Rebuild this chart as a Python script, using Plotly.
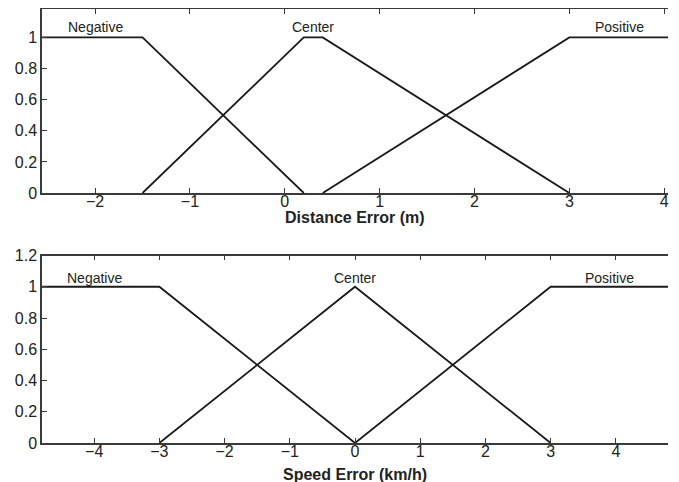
import plotly.graph_objects as go

# Distance error membership functions (top)
dist_neg_x = [-2.56, -1.5, 0.2]
dist_neg_y = [1, 1, 0]
dist_cen_x = [-1.5, 0.2, 0.4, 3.0]
dist_cen_y = [0, 1, 1, 0]
dist_pos_x = [0.4, 3.0, 4.04]
dist_pos_y = [0, 1, 1]

# Speed error membership functions (bottom)
spd_neg_x = [-4.8, -3, 0]
spd_neg_y = [1, 1, 0]
spd_cen_x = [-3, 0, 3]
spd_cen_y = [0, 1, 0]
spd_pos_x = [0, 3, 4.8]
spd_pos_y = [0, 1, 1]

labels = ["Negative", "Center", "Positive"]
dist_label_x = [-2.0, 0.3, 3.53]
spd_label_x = [-4.0, 0.0, 3.9]
dist_label_y = 1.066
spd_label_y = 1.055

dist_xticks = [-2, -1, 0, 1, 2, 3, 4]
spd_xticks = [-4, -3, -2, -1, 0, 1, 2, 3, 4]
dist_yticks = [0, 0.2, 0.4, 0.6, 0.8, 1]
spd_yticks = [0, 0.2, 0.4, 0.6, 0.8, 1, 1.2]

FONT = "Liberation Sans, Arial, sans-serif"
LINE = dict(color="#1a1a1a", width=1.8)
TXT = "#222222"
AX = "#3a3a3a"

fig = go.Figure()
for xs, ys in [(dist_neg_x, dist_neg_y), (dist_cen_x, dist_cen_y), (dist_pos_x, dist_pos_y)]:
    fig.add_trace(go.Scatter(x=xs, y=ys, mode="lines", line=LINE, xaxis="x", yaxis="y",
                             showlegend=False, hoverinfo="skip"))
for xs, ys in [(spd_neg_x, spd_neg_y), (spd_cen_x, spd_cen_y), (spd_pos_x, spd_pos_y)]:
    fig.add_trace(go.Scatter(x=xs, y=ys, mode="lines", line=LINE, xaxis="x2", yaxis="y2",
                             showlegend=False, hoverinfo="skip"))

for lx, t in zip(dist_label_x, labels):
    fig.add_annotation(x=lx, y=dist_label_y, xref="x", yref="y", text=t, showarrow=False,
                       font=dict(family=FONT, size=14, color=TXT))
for lx, t in zip(spd_label_x, labels):
    fig.add_annotation(x=lx, y=spd_label_y, xref="x2", yref="y2", text=t, showarrow=False,
                       font=dict(family=FONT, size=14, color=TXT))

# axis titles
fig.add_annotation(x=0.5, y=0.519, xref="paper", yref="paper", text="<b>Distance Error (m)</b>",
                   showarrow=False, xanchor="center", yanchor="middle",
                   font=dict(family=FONT, size=16, color=TXT))
fig.add_annotation(x=0.5, y=-0.072, xref="paper", yref="paper", text="<b>Speed Error (km/h)</b>",
                   showarrow=False, xanchor="center", yanchor="middle",
                   font=dict(family=FONT, size=16, color=TXT))

axcommon = dict(showgrid=False, zeroline=False, showline=True, linecolor=AX, linewidth=1.5,
                ticks="inside", ticklen=5, tickcolor=AX, tickwidth=1, automargin=False,
                tickfont=dict(family=FONT, size=16, color=TXT))

top_dom = [0.576, 1.0]
bot_dom = [0.0, 0.432]
top_ymax = 1.183

fig.update_layout(
    template="none",
    width=671, height=474,
    margin=dict(l=34, r=11, t=1, b=39),
    paper_bgcolor="white", plot_bgcolor="white",
    font=dict(family=FONT, color=TXT),
    xaxis=dict(axcommon, domain=[0, 1], anchor="y", range=[-2.56, 4.04], tickvals=dist_xticks,
               mirror="ticks", ticklabelstandoff=-7),
    yaxis=dict(axcommon, domain=top_dom, anchor="x", range=[0, top_ymax], tickvals=dist_yticks,
               ticktext=["0", "0.2", "0.4", "0.6", "0.8", "1"]),
    yaxis3=dict(axcommon, domain=top_dom, anchor="x", overlaying="y", side="right",
                range=[0, top_ymax], tickvals=dist_yticks, showticklabels=False, showline=False),
    xaxis2=dict(axcommon, domain=[0, 1], anchor="y2", range=[-4.8, 4.8], tickvals=spd_xticks,
                mirror="ticks", ticklabelstandoff=-7),
    yaxis2=dict(axcommon, domain=bot_dom, anchor="x2", range=[0, 1.2], tickvals=spd_yticks,
                ticktext=["0", "0.2", "0.4", "0.6", "0.8", "1", "1.2"]),
    yaxis4=dict(axcommon, domain=bot_dom, anchor="x2", overlaying="y2", side="right",
                range=[0, 1.2], tickvals=spd_yticks, showticklabels=False, showline=False),
)

fig.write_html("out.html")
